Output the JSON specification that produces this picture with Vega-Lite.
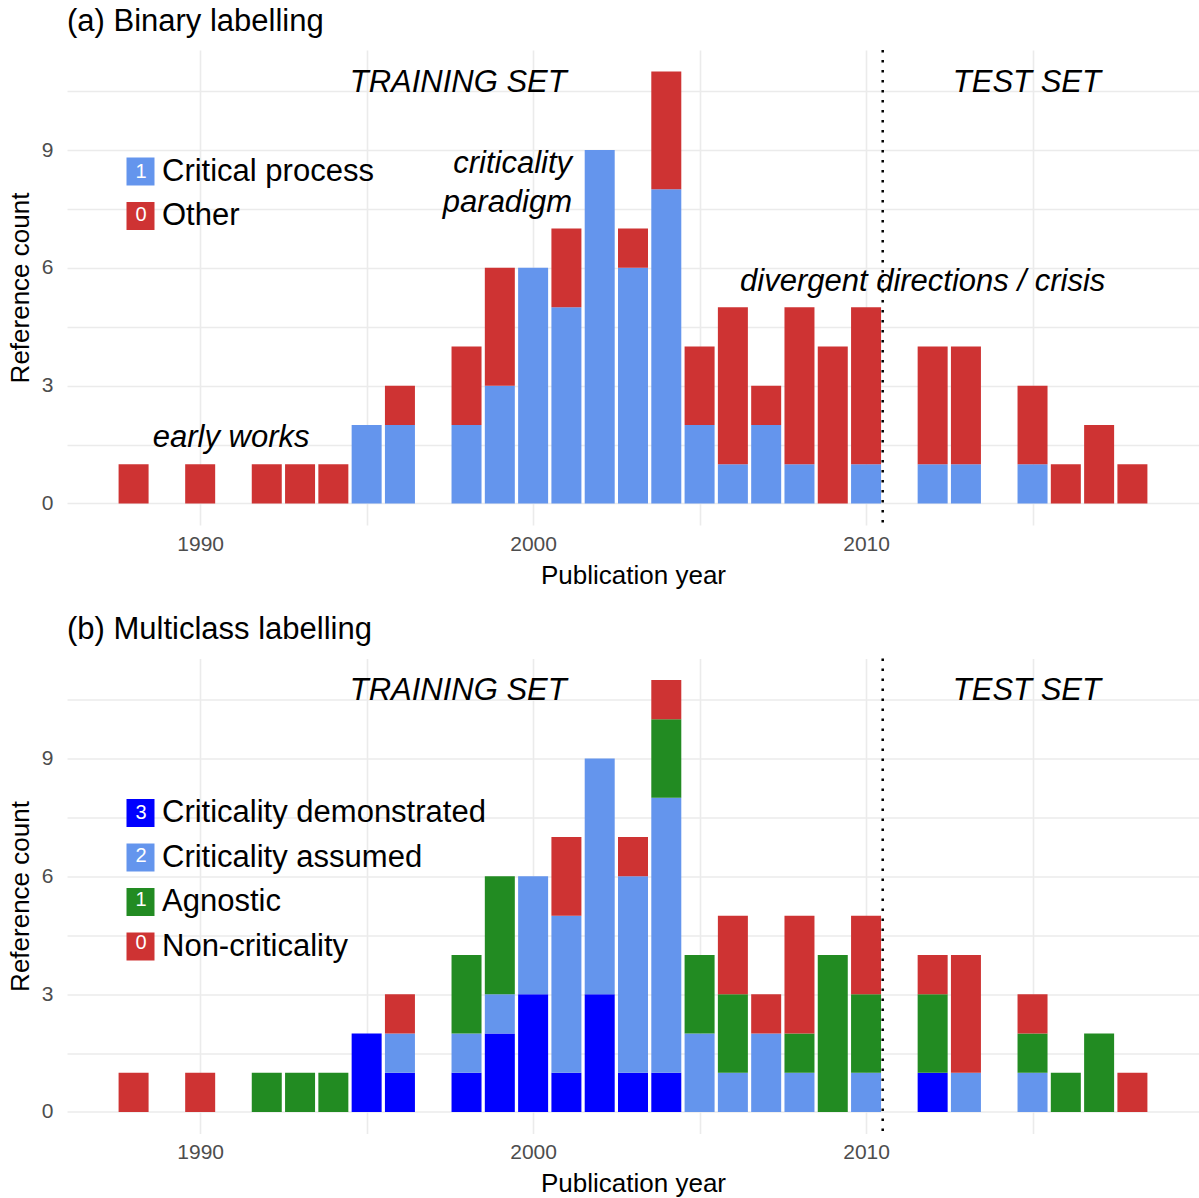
{
  "$schema": "https://vega.github.io/schema/vega-lite/v6.json",
  "padding": {"left": 7, "top": 5, "right": 0, "bottom": 0},
  "spacing": 25.5,
  "datasets": {
    "binary": [
      {"year": 1988, "label": "Other", "code": 0, "n": 1},
      {"year": 1990, "label": "Other", "code": 0, "n": 1},
      {"year": 1992, "label": "Other", "code": 0, "n": 1},
      {"year": 1993, "label": "Other", "code": 0, "n": 1},
      {"year": 1994, "label": "Other", "code": 0, "n": 1},
      {"year": 1995, "label": "Critical process", "code": 1, "n": 2},
      {"year": 1996, "label": "Critical process", "code": 1, "n": 2},
      {"year": 1996, "label": "Other", "code": 0, "n": 1},
      {"year": 1998, "label": "Critical process", "code": 1, "n": 2},
      {"year": 1998, "label": "Other", "code": 0, "n": 2},
      {"year": 1999, "label": "Critical process", "code": 1, "n": 3},
      {"year": 1999, "label": "Other", "code": 0, "n": 3},
      {"year": 2000, "label": "Critical process", "code": 1, "n": 6},
      {"year": 2001, "label": "Critical process", "code": 1, "n": 5},
      {"year": 2001, "label": "Other", "code": 0, "n": 2},
      {"year": 2002, "label": "Critical process", "code": 1, "n": 9},
      {"year": 2003, "label": "Critical process", "code": 1, "n": 6},
      {"year": 2003, "label": "Other", "code": 0, "n": 1},
      {"year": 2004, "label": "Critical process", "code": 1, "n": 8},
      {"year": 2004, "label": "Other", "code": 0, "n": 3},
      {"year": 2005, "label": "Critical process", "code": 1, "n": 2},
      {"year": 2005, "label": "Other", "code": 0, "n": 2},
      {"year": 2006, "label": "Critical process", "code": 1, "n": 1},
      {"year": 2006, "label": "Other", "code": 0, "n": 4},
      {"year": 2007, "label": "Critical process", "code": 1, "n": 2},
      {"year": 2007, "label": "Other", "code": 0, "n": 1},
      {"year": 2008, "label": "Critical process", "code": 1, "n": 1},
      {"year": 2008, "label": "Other", "code": 0, "n": 4},
      {"year": 2009, "label": "Other", "code": 0, "n": 4},
      {"year": 2010, "label": "Critical process", "code": 1, "n": 1},
      {"year": 2010, "label": "Other", "code": 0, "n": 4},
      {"year": 2012, "label": "Critical process", "code": 1, "n": 1},
      {"year": 2012, "label": "Other", "code": 0, "n": 3},
      {"year": 2013, "label": "Critical process", "code": 1, "n": 1},
      {"year": 2013, "label": "Other", "code": 0, "n": 3},
      {"year": 2015, "label": "Critical process", "code": 1, "n": 1},
      {"year": 2015, "label": "Other", "code": 0, "n": 2},
      {"year": 2016, "label": "Other", "code": 0, "n": 1},
      {"year": 2017, "label": "Other", "code": 0, "n": 2},
      {"year": 2018, "label": "Other", "code": 0, "n": 1}
    ],
    "multi": [
      {"year": 1988, "label": "Non-criticality", "code": 0, "n": 1},
      {"year": 1990, "label": "Non-criticality", "code": 0, "n": 1},
      {"year": 1992, "label": "Agnostic", "code": 1, "n": 1},
      {"year": 1993, "label": "Agnostic", "code": 1, "n": 1},
      {"year": 1994, "label": "Agnostic", "code": 1, "n": 1},
      {"year": 1995, "label": "Criticality demonstrated", "code": 3, "n": 2},
      {"year": 1996, "label": "Criticality demonstrated", "code": 3, "n": 1},
      {"year": 1996, "label": "Criticality assumed", "code": 2, "n": 1},
      {"year": 1996, "label": "Non-criticality", "code": 0, "n": 1},
      {"year": 1998, "label": "Criticality demonstrated", "code": 3, "n": 1},
      {"year": 1998, "label": "Criticality assumed", "code": 2, "n": 1},
      {"year": 1998, "label": "Agnostic", "code": 1, "n": 2},
      {"year": 1999, "label": "Criticality demonstrated", "code": 3, "n": 2},
      {"year": 1999, "label": "Criticality assumed", "code": 2, "n": 1},
      {"year": 1999, "label": "Agnostic", "code": 1, "n": 3},
      {"year": 2000, "label": "Criticality demonstrated", "code": 3, "n": 3},
      {"year": 2000, "label": "Criticality assumed", "code": 2, "n": 3},
      {"year": 2001, "label": "Criticality demonstrated", "code": 3, "n": 1},
      {"year": 2001, "label": "Criticality assumed", "code": 2, "n": 4},
      {"year": 2001, "label": "Non-criticality", "code": 0, "n": 2},
      {"year": 2002, "label": "Criticality demonstrated", "code": 3, "n": 3},
      {"year": 2002, "label": "Criticality assumed", "code": 2, "n": 6},
      {"year": 2003, "label": "Criticality demonstrated", "code": 3, "n": 1},
      {"year": 2003, "label": "Criticality assumed", "code": 2, "n": 5},
      {"year": 2003, "label": "Non-criticality", "code": 0, "n": 1},
      {"year": 2004, "label": "Criticality demonstrated", "code": 3, "n": 1},
      {"year": 2004, "label": "Criticality assumed", "code": 2, "n": 7},
      {"year": 2004, "label": "Agnostic", "code": 1, "n": 2},
      {"year": 2004, "label": "Non-criticality", "code": 0, "n": 1},
      {"year": 2005, "label": "Criticality assumed", "code": 2, "n": 2},
      {"year": 2005, "label": "Agnostic", "code": 1, "n": 2},
      {"year": 2006, "label": "Criticality assumed", "code": 2, "n": 1},
      {"year": 2006, "label": "Agnostic", "code": 1, "n": 2},
      {"year": 2006, "label": "Non-criticality", "code": 0, "n": 2},
      {"year": 2007, "label": "Criticality assumed", "code": 2, "n": 2},
      {"year": 2007, "label": "Non-criticality", "code": 0, "n": 1},
      {"year": 2008, "label": "Criticality assumed", "code": 2, "n": 1},
      {"year": 2008, "label": "Agnostic", "code": 1, "n": 1},
      {"year": 2008, "label": "Non-criticality", "code": 0, "n": 3},
      {"year": 2009, "label": "Agnostic", "code": 1, "n": 4},
      {"year": 2010, "label": "Criticality assumed", "code": 2, "n": 1},
      {"year": 2010, "label": "Agnostic", "code": 1, "n": 2},
      {"year": 2010, "label": "Non-criticality", "code": 0, "n": 2},
      {"year": 2012, "label": "Criticality demonstrated", "code": 3, "n": 1},
      {"year": 2012, "label": "Agnostic", "code": 1, "n": 2},
      {"year": 2012, "label": "Non-criticality", "code": 0, "n": 1},
      {"year": 2013, "label": "Criticality assumed", "code": 2, "n": 1},
      {"year": 2013, "label": "Non-criticality", "code": 0, "n": 3},
      {"year": 2015, "label": "Criticality assumed", "code": 2, "n": 1},
      {"year": 2015, "label": "Agnostic", "code": 1, "n": 1},
      {"year": 2015, "label": "Non-criticality", "code": 0, "n": 1},
      {"year": 2016, "label": "Agnostic", "code": 1, "n": 1},
      {"year": 2017, "label": "Agnostic", "code": 1, "n": 2},
      {"year": 2018, "label": "Non-criticality", "code": 0, "n": 1}
    ],
    "notes_a": [
      {"x": 1997.75, "y": 10.72, "text": "TRAINING SET"},
      {"x": 2014.83, "y": 10.72, "text": "TEST SET"},
      {"x": 2011.7, "y": 5.65, "text": "divergent directions / crisis"},
      {"x": 1990.93, "y": 1.67, "text": "early works"}
    ],
    "notes_a_right": [
      {"x": 2001.17, "y": 8.65, "text": ["criticality", "paradigm"]}
    ],
    "notes_b": [
      {"x": 1997.75, "y": 10.72, "text": "TRAINING SET"},
      {"x": 2014.83, "y": 10.72, "text": "TEST SET"}
    ],
    "split": [{"x": 2010.5}]
  },
  "resolve": {
    "scale": {"color": "independent", "shape": "independent"},
    "legend": {"color": "independent", "shape": "independent"}
  },
  "vconcat": [
    {
      "width": 1132,
      "height": 475,
      "title": {"text": "(a) Binary labelling"},
      "layer": [
        {
          "data": {"name": "binary"},
          "mark": {"type": "bar", "size": 30},
          "encoding": {
            "x": {"field": "year", "type": "quantitative", "scale": {"domain": [1986, 2020], "nice": false, "zero": false, "padding": 0},
              "axis": {"title": "Publication year", "values": [1990, 1995, 2000, 2005, 2010, 2015], "labelExpr": "datum.value % 10 == 0 ? format(datum.value, 'd') : ''"}},
            "y": {"field": "n", "type": "quantitative", "stack": "zero", "scale": {"domain": [-0.55, 11.55], "nice": false, "zero": false, "padding": 0},
              "axis": {"title": "Reference count", "values": [0, 1.5, 3, 4.5, 6, 7.5, 9, 10.5], "labelExpr": "datum.value % 3 == 0 ? format(datum.value, 'd') : ''"}},
            "color": {"field": "label", "type": "nominal",
              "scale": {"domain": ["Critical process", "Other"], "range": ["#6495ED", "#CE3333"]},
              "legend": {"title": null, "orient": "none", "legendX": 58, "legendY": 106, "zindex": 1}},
            "order": {"field": "code", "type": "quantitative", "sort": "descending"}
          }
        },
        {
          "data": {"name": "binary"},
          "mark": {"type": "point", "opacity": 0},
          "encoding": {
            "x": {"field": "year", "type": "quantitative"},
            "y": {"field": "n", "type": "quantitative"},
            "shape": {"field": "code", "type": "nominal", "scale": {"domain": [1, 0]},
              "legend": {"title": null, "orient": "none", "legendX": 48.5, "legendY": 111.5, "zindex": 2, "symbolSize": 1, "symbolOpacity": 0, "symbolStrokeWidth": 0, "symbolType": "circle", "labelOffset": 0, "labelColor": "white", "labelFontSize": 20, "rowPadding": 23.4}}
          }
        },
        {
          "data": {"name": "split"},
          "mark": {"type": "rule", "color": "black", "strokeWidth": 2.5, "strokeDash": [2.5, 7.5]},
          "encoding": {"x": {"field": "x", "type": "quantitative"}}
        },
        {
          "data": {"name": "notes_a"},
          "mark": {"type": "text", "fontSize": 31, "fontStyle": "italic", "color": "black", "align": "center", "baseline": "middle"},
          "encoding": {
            "x": {"field": "x", "type": "quantitative"},
            "y": {"field": "y", "type": "quantitative"},
            "text": {"field": "text"}
          }
        },
        {
          "data": {"name": "notes_a_right"},
          "mark": {"type": "text", "fontSize": 31, "fontStyle": "italic", "color": "black", "align": "right", "baseline": "middle", "lineHeight": 39},
          "encoding": {
            "x": {"field": "x", "type": "quantitative"},
            "y": {"field": "y", "type": "quantitative"},
            "text": {"field": "text"}
          }
        }
      ]
    },
    {
      "width": 1132,
      "height": 475,
      "title": {"text": "(b) Multiclass labelling"},
      "layer": [
        {
          "data": {"name": "multi"},
          "mark": {"type": "bar", "size": 30},
          "encoding": {
            "x": {"field": "year", "type": "quantitative", "scale": {"domain": [1986, 2020], "nice": false, "zero": false, "padding": 0},
              "axis": {"title": "Publication year", "values": [1990, 1995, 2000, 2005, 2010, 2015], "labelExpr": "datum.value % 10 == 0 ? format(datum.value, 'd') : ''"}},
            "y": {"field": "n", "type": "quantitative", "stack": "zero", "scale": {"domain": [-0.55, 11.55], "nice": false, "zero": false, "padding": 0},
              "axis": {"title": "Reference count", "values": [0, 1.5, 3, 4.5, 6, 7.5, 9, 10.5], "labelExpr": "datum.value % 3 == 0 ? format(datum.value, 'd') : ''"}},
            "color": {"field": "label", "type": "nominal",
              "scale": {"domain": ["Criticality demonstrated", "Criticality assumed", "Agnostic", "Non-criticality"], "range": ["#0000FF", "#6495ED", "#228B22", "#CE3333"]},
              "legend": {"title": null, "orient": "none", "legendX": 58, "legendY": 139, "zindex": 1}},
            "order": {"field": "code", "type": "quantitative", "sort": "descending"}
          }
        },
        {
          "data": {"name": "multi"},
          "mark": {"type": "point", "opacity": 0},
          "encoding": {
            "x": {"field": "year", "type": "quantitative"},
            "y": {"field": "n", "type": "quantitative"},
            "shape": {"field": "code", "type": "nominal", "scale": {"domain": [3, 2, 1, 0]},
              "legend": {"title": null, "orient": "none", "legendX": 48.5, "legendY": 144.5, "zindex": 2, "symbolSize": 1, "symbolOpacity": 0, "symbolStrokeWidth": 0, "symbolType": "circle", "labelOffset": 0, "labelColor": "white", "labelFontSize": 20, "rowPadding": 23.4}}
          }
        },
        {
          "data": {"name": "split"},
          "mark": {"type": "rule", "color": "black", "strokeWidth": 2.5, "strokeDash": [2.5, 7.5]},
          "encoding": {"x": {"field": "x", "type": "quantitative"}}
        },
        {
          "data": {"name": "notes_b"},
          "mark": {"type": "text", "fontSize": 31, "fontStyle": "italic", "color": "black", "align": "center", "baseline": "middle"},
          "encoding": {
            "x": {"field": "x", "type": "quantitative"},
            "y": {"field": "y", "type": "quantitative"},
            "text": {"field": "text"}
          }
        }
      ]
    }
  ],
  "config": {
    "font": "Liberation Sans",
    "view": {"stroke": null},
    "title": {"anchor": "start", "frame": "group", "fontSize": 31, "fontWeight": "normal", "color": "black", "offset": 11},
    "axisX": {
      "labelFontSize": 21, "labelColor": "#4D4D4D", "labelPadding": 8, "labelFlush": false, "labelOverlap": false,
      "titleFontSize": 26, "titleFontWeight": "normal", "titleColor": "black", "titlePadding": 8,
      "grid": true, "gridColor": "#EBEBEB", "gridWidth": 1.6, "domain": false, "ticks": false
    },
    "axisY": {
      "labelFontSize": 21, "labelColor": "#4D4D4D", "labelPadding": 14, "labelOverlap": false,
      "titleFontSize": 26, "titleFontWeight": "normal", "titleColor": "black", "titlePadding": 8,
      "grid": true, "gridColor": "#EBEBEB", "gridWidth": 1.6, "domain": false, "ticks": false
    },
    "legend": {
      "symbolType": "square", "symbolSize": 784, "symbolStrokeWidth": 0, "symbolOpacity": 1,
      "labelFontSize": 31, "labelColor": "black", "labelOffset": 6, "rowPadding": 12.5, "padding": 0,
      "labelLimit": 0
    }
  }
}
